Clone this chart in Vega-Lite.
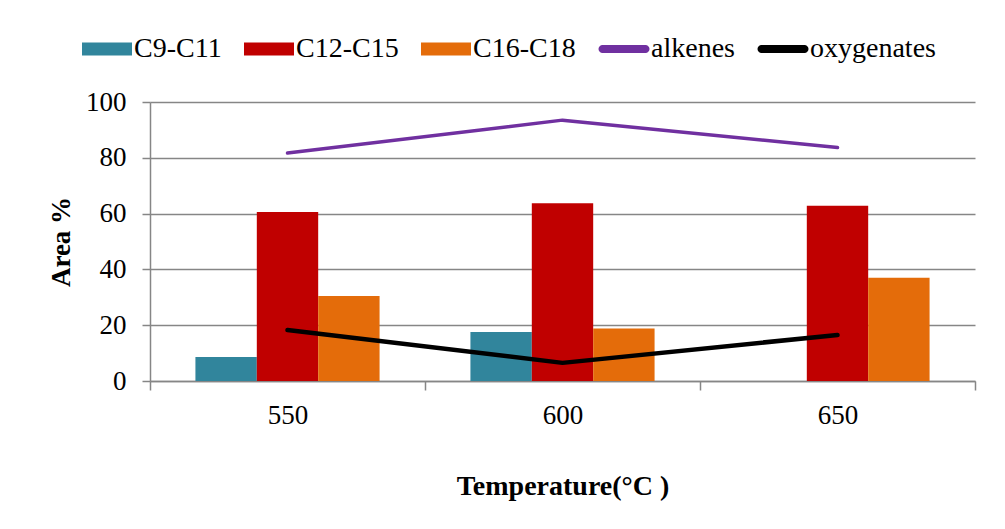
{
  "$schema": "https://vega.github.io/schema/vega-lite/v6.json",
  "width": 825,
  "height": 279,
  "autosize": {"type": "none"},
  "padding": {"left": 150, "top": 102, "right": 30, "bottom": 148},
  "background": "white",
  "config": {
    "view": {"stroke": null},
    "font": "Liberation Serif",
    "legend": {"labelFont": "Liberation Serif", "titleFont": "Liberation Serif"},
    "axis": {
      "domainColor": "#868686",
      "gridColor": "#868686",
      "tickColor": "#868686",
      "domainWidth": 1.5,
      "gridWidth": 1.5,
      "tickWidth": 1.5,
      "labelFont": "Liberation Serif",
      "labelFontSize": 27,
      "labelColor": "black",
      "titleFont": "Liberation Serif",
      "titleColor": "black",
      "titleFontWeight": "bold"
    }
  },
  "datasets": {
    "bars": [
      {"temperature": "550", "series": "C9-C11", "value": 8.6},
      {"temperature": "550", "series": "C12-C15", "value": 60.6},
      {"temperature": "550", "series": "C16-C18", "value": 30.5},
      {"temperature": "600", "series": "C9-C11", "value": 17.6},
      {"temperature": "600", "series": "C12-C15", "value": 63.7},
      {"temperature": "600", "series": "C16-C18", "value": 18.8},
      {"temperature": "650", "series": "C12-C15", "value": 62.8},
      {"temperature": "650", "series": "C16-C18", "value": 37.0}
    ],
    "lines": [
      {"temperature": "550", "series": "alkenes", "value": 81.7},
      {"temperature": "600", "series": "alkenes", "value": 93.5},
      {"temperature": "650", "series": "alkenes", "value": 83.7},
      {"temperature": "550", "series": "oxygenates", "value": 18.3},
      {"temperature": "600", "series": "oxygenates", "value": 6.5},
      {"temperature": "650", "series": "oxygenates", "value": 16.5}
    ]
  },
  "encoding": {
    "x": {
      "field": "temperature",
      "type": "nominal",
      "scale": {"paddingInner": 0, "paddingOuter": 0},
      "axis": {
        "title": "Temperature(°C )",
        "titleFontSize": 28,
        "titlePadding": 44,
        "labelAngle": 0,
        "labelPadding": 12,
        "tickBand": "extent",
        "tickSize": 9,
        "grid": false
      }
    },
    "y": {
      "field": "value",
      "type": "quantitative",
      "scale": {"domain": [0, 100]},
      "axis": {
        "title": "Area %",
        "titleFontSize": 27,
        "titlePadding": 10,
        "values": [0, 20, 40, 60, 80, 100],
        "tickSize": 8,
        "labelPadding": 16,
        "grid": true
      }
    },
    "color": {
      "field": "series",
      "type": "nominal",
      "scale": {
        "domain": ["C9-C11", "C12-C15", "C16-C18", "alkenes", "oxygenates"],
        "range": ["#31859C", "#C00000", "#E46C0A", "#7030A0", "#000000"]
      },
      "legend": {
        "orient": "none",
        "legendX": -68,
        "legendY": -78,
        "direction": "horizontal",
        "title": null,
        "labelFont": "Liberation Serif",
        "labelFontSize": 28,
        "labelColor": "black",
        "labelOffset": 2,
        "columnPadding": 22,
        "symbolSize": 2500,
        "symbolStrokeWidth": 0,
        "symbolType": "M-1,-0.26L1,-0.26L1,0.26L-1,0.26Z",
        "encode": {
          "labels": {"update": {"font": {"value": "Liberation Serif"}}},
          "symbols": {
            "update": {
              "shape": {"signal": "(datum.value === 'alkenes' || datum.value === 'oxygenates') ? 'M-0.86,-0.16L0.86,-0.16A0.16,0.16 0 0 1 0.86,0.16L-0.86,0.16A0.16,0.16 0 0 1 -0.86,-0.16Z' : 'M-1,-0.26L1,-0.26L1,0.26L-1,0.26Z'"},
              "fill": {"signal": "scale('color', datum.value)"},
              "strokeWidth": {"value": 0},
              "opacity": {"value": 1}
            }
          }
        }
      }
    }
  },
  "layer": [
    {
      "data": {"name": "bars"},
      "mark": {"type": "bar"},
      "encoding": {
        "xOffset": {
          "field": "series",
          "type": "nominal",
          "scale": {"domain": ["C9-C11", "C12-C15", "C16-C18"], "paddingInner": 0, "paddingOuter": 0.74}
        }
      }
    },
    {
      "data": {"name": "lines"},
      "mark": {"type": "line", "strokeCap": "round", "strokeJoin": "round"},
      "encoding": {
        "strokeWidth": {
          "condition": {"test": "datum.series === 'oxygenates'", "value": 4.5},
          "value": 3.5
        }
      }
    }
  ]
}
